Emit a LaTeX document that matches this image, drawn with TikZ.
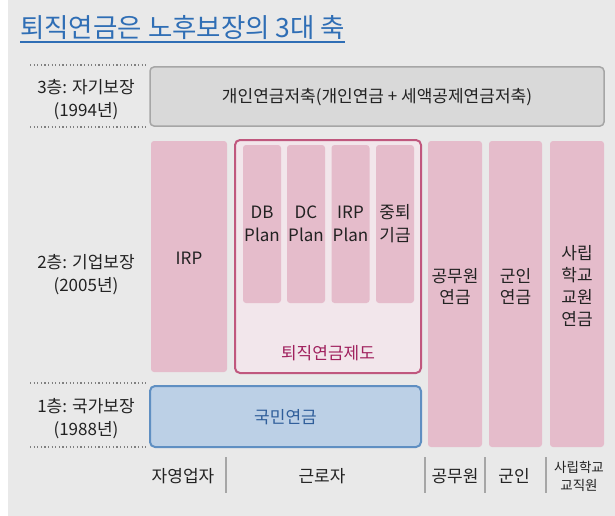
\documentclass[tikz,border=0pt]{standalone}
\usepackage{fontspec}
\setmainfont{Noto Sans CJK KR}
\definecolor{panelgrey}{HTML}{E9E9E9}
\definecolor{titleblue}{HTML}{2F6EB5}
\definecolor{bargrey}{HTML}{D9D9D9}
\definecolor{barline}{HTML}{A6A6A6}
\definecolor{pillarpink}{HTML}{E5BCCB}
\definecolor{planline}{HTML}{C0587E}
\definecolor{planfill}{HTML}{F2E6EB}
\definecolor{plantext}{HTML}{A0215E}
\definecolor{natfill}{HTML}{BCD0E6}
\definecolor{natline}{HTML}{5F8FC2}
\definecolor{nattext}{HTML}{2F5E9A}
\definecolor{txtgrey}{HTML}{222222}
\tikzset{
  pillar/.style={rectangle, rounded corners=3pt, fill=pillarpink, inner sep=0pt},
  lbl/.style={font=\fontsize{17}{23}\selectfont, text=txtgrey, align=center, inner sep=0pt},
  layerline/.style={draw=gray, line width=1.6pt, dash pattern=on 1.2pt off 2.4pt},
  divider/.style={draw=barline, line width=2pt}
}
\begin{document}
\begin{tikzpicture}[x=1pt, y=-1pt]
        \useasboundingbox (0,0) rectangle (615,516);
        \fill[panelgrey] (8,0) rectangle (615,516);
        % title
        \node[anchor=base west, inner sep=0pt, text=titleblue, font=\fontsize{26.5}{30}\selectfont] (title) at (20, 38) {퇴직연금은 노후보장의 3대 축};
        \draw[titleblue, line width=1.3pt] ([yshift=-4pt]title.base west) -- ([yshift=-4pt]title.base east);
        % layers
        \draw[layerline] (30, 65) -- (148, 65);
        \draw[layerline] (30, 127) -- (148, 127);
        \draw[layerline] (30, 383) -- (148, 383);
        \draw[layerline] (30, 447) -- (148, 447);
        \node[lbl] (l3) at (86, 99.5) {3층: 자기보장\\(1994년)};
        \node[lbl] (l2) at (86, 274.5) {2층: 기업보장\\(2005년)};
        \node[lbl] (l1) at (86, 418.5) {1층: 국가보장\\(1988년)};
        % 3rd pillar
        \node[rectangle, rounded corners=4pt, fill=bargrey, draw=barline, line width=1.5pt,
              minimum width=454pt, minimum height=59pt] (bar) at (377, 96.5) {};
        \node[lbl] (bartext) at (377, 97) {개인연금저축(개인연금 + 세액공제연금저축)};
        % 2nd pillar
        \node[pillar, minimum width=76pt, minimum height=231pt] (irp) at (189, 256.5) {};
        \node[lbl] (irptext) at (189, 258) {IRP};
        \node[rectangle, rounded corners=5pt, fill=planfill, draw=planline, line width=2pt,
              minimum width=186pt, minimum height=233pt] (plan) at (328, 256.5) {};
        \node[pillar, minimum width=38pt, minimum height=158pt] (db) at (262, 224) {};
        \node[pillar, minimum width=38pt, minimum height=158pt] (dc) at (306, 224) {};
        \node[pillar, minimum width=38pt, minimum height=158pt] (irpplan) at (350.5, 224) {};
        \node[pillar, minimum width=38pt, minimum height=158pt] (fund) at (395, 224) {};
        \node[lbl] (dbtext) at (262, 223.5) {DB\\Plan};
        \node[lbl] (dctext) at (306, 223.5) {DC\\Plan};
        \node[lbl] (irpplantext) at (350.5, 223.5) {IRP\\Plan};
        \node[lbl] (fundtext) at (395, 223.5) {중퇴\\기금};
        \node[lbl, text=plantext] (plantitle) at (328, 353) {퇴직연금제도};
        % special pensions
        \node[pillar, minimum width=54pt, minimum height=306pt] (gov) at (455, 294) {};
        \node[pillar, minimum width=53pt, minimum height=306pt] (mil) at (515.5, 294) {};
        \node[pillar, minimum width=54pt, minimum height=306pt] (school) at (577, 294) {};
        \node[lbl, font=\fontsize{17}{21}\selectfont] (govtext) at (455, 287) {공무원\\연금};
        \node[lbl, font=\fontsize{17}{21}\selectfont] (miltext) at (515.5, 287) {군인\\연금};
        \node[lbl, font=\fontsize{17}{21.7}\selectfont] (schooltext) at (577, 286) {사립\\학교\\교원\\연금};
        % 1st pillar
        \node[rectangle, rounded corners=5pt, fill=natfill, draw=natline, line width=2pt,
              minimum width=271pt, minimum height=61pt] (nat) at (285.5, 416.5) {};
        \node[lbl, text=nattext] (nattext) at (285.5, 417) {국민연금};
        % who
        \node[lbl] (w1) at (183, 476) {자영업자};
        \node[lbl] (w2) at (322, 476) {근로자};
        \node[lbl] (w3) at (455, 476) {공무원};
        \node[lbl] (w4) at (514, 476) {군인};
        \node[lbl, font=\fontsize{13.5}{18}\selectfont] (w5) at (579, 476) {사립학교\\교직원};
        \draw[divider] (226, 457) -- (226, 493);
        \draw[divider] (425, 457) -- (425, 493);
        \draw[divider] (485, 457) -- (485, 493);
        \draw[divider] (546, 457) -- (546, 493);
\end{tikzpicture}
\end{document}
